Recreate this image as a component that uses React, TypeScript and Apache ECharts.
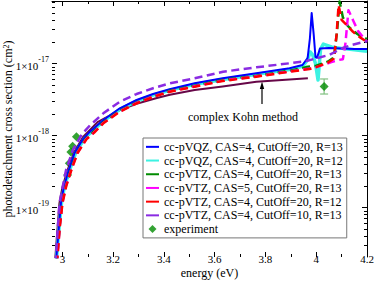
import React, { useEffect, useRef } from 'react';
import * as echarts from 'echarts';

// ---- axes (energy in eV, cross section as log10 of cm^2) ----
const X_MIN = 2.9587;
const X_MAX = 4.2;
const Y_MIN = -19.6875;
const Y_MAX = -16.132;

const xMajorTicks = [3, 3.2, 3.4, 3.6, 3.8, 4, 4.2];
const xMinorTicks = [3.1, 3.3, 3.5, 3.7, 3.9, 4.1];
const yMajorTicks = [-19, -18, -17];
const yMinorTicks: number[] = [];
[-20, -19, -18, -17].forEach((n) => {
  for (let k = 2; k <= 9; k++) {
    const v = n + Math.log10(k);
    if (v > Y_MIN && v < Y_MAX) yMinorTicks.push(v);
  }
});

// ---- data: [energy (eV), log10 cross section (cm^2)] ----
const vqzCas4R13: [number, number][] = [
  [2.971, -20.3], [2.976, -19.69], [2.985, -19.31], [2.994, -18.94], [3.005, -18.72],
  [3.025, -18.48], [3.048, -18.24], [3.081, -18.05], [3.108, -17.947], [3.161, -17.785],
  [3.226, -17.622], [3.292, -17.507], [3.357, -17.424], [3.422, -17.358], [3.521, -17.275],
  [3.631, -17.206], [3.764, -17.136], [3.895, -17.067], [3.946, -17.021], [3.966, -16.924],
  [3.975, -16.65], [3.982, -16.3], [3.99, -16.6], [3.997, -16.91], [4.003, -16.92],
  [4.015, -16.79], [4.05, -16.785], [4.1, -16.79], [4.15, -16.8], [4.2, -16.8],
];
const vqzCas4R12: [number, number][] = [
  [2.971, -20.3], [2.977, -19.69], [2.986, -19.31], [2.996, -18.94], [3.007, -18.72],
  [3.028, -18.48], [3.052, -18.24], [3.085, -18.05], [3.112, -17.955], [3.161, -17.8],
  [3.226, -17.637], [3.292, -17.522], [3.357, -17.44], [3.422, -17.373], [3.521, -17.29],
  [3.631, -17.221], [3.764, -17.151], [3.895, -17.082], [3.946, -17.04], [3.966, -16.95],
  [3.976, -16.84], [3.986, -16.88], [3.997, -17.0], [4.007, -17.23], [4.017, -16.8],
  [4.028, -16.73], [4.06, -16.77], [4.1, -16.79], [4.15, -16.81], [4.2, -16.83],
];
const vtzCas4R13: [number, number][] = [
  [2.972, -20.3], [2.979, -19.69], [2.988, -19.28], [2.998, -18.94], [3.012, -18.71],
  [3.032, -18.48], [3.057, -18.24], [3.09, -18.05], [3.118, -17.96], [3.161, -17.815],
  [3.226, -17.655], [3.292, -17.54], [3.357, -17.455], [3.423, -17.378], [3.521, -17.308],
  [3.631, -17.23], [3.764, -17.17], [3.895, -17.1], [3.96, -17.05], [4.0, -17.03],
  [4.045, -16.975], [4.07, -16.915], [4.082, -16.55], [4.092, -16.14], [4.105, -16.36],
  [4.125, -16.48], [4.15, -16.56], [4.175, -16.62], [4.2, -16.66],
];
const vtzCas5R13: [number, number][] = [
  [2.973, -20.3], [2.98, -19.69], [2.989, -19.27], [2.999, -18.94], [3.014, -18.7],
  [3.034, -18.48], [3.059, -18.24], [3.093, -18.05], [3.123, -17.96], [3.161, -17.825],
  [3.226, -17.664], [3.292, -17.548], [3.357, -17.46], [3.423, -17.387], [3.521, -17.317],
  [3.631, -17.238], [3.764, -17.178], [3.895, -17.11], [3.974, -17.07], [4.0, -17.05],
  [4.06, -16.98], [4.09, -16.95], [4.105, -16.94], [4.115, -16.72], [4.127, -16.26],
  [4.145, -16.4], [4.165, -16.55], [4.2, -16.7],
];
const vtzCas4R12: [number, number][] = [
  [2.973, -20.3], [2.98, -19.69], [2.99, -19.25], [3.0, -18.94], [3.015, -18.7],
  [3.035, -18.48], [3.06, -18.24], [3.095, -18.05], [3.125, -17.96], [3.161, -17.83],
  [3.226, -17.669], [3.292, -17.553], [3.357, -17.465], [3.423, -17.392], [3.521, -17.322],
  [3.631, -17.243], [3.764, -17.183], [3.895, -17.114], [3.974, -17.076], [4.0, -17.05],
  [4.045, -16.99], [4.07, -16.93], [4.08, -16.6], [4.088, -16.19], [4.1, -16.395],
  [4.12, -16.465], [4.145, -16.56], [4.17, -16.63], [4.2, -16.7],
];
const vtzCas4Cut10R13: [number, number][] = [
  [2.969, -20.3], [2.974, -19.69], [2.988, -18.94], [3.014, -18.48], [3.041, -18.2],
  [3.075, -17.99], [3.108, -17.86], [3.161, -17.692], [3.226, -17.53], [3.292, -17.424],
  [3.357, -17.344], [3.423, -17.275], [3.521, -17.206], [3.633, -17.114], [3.764, -17.053],
  [3.895, -16.997], [3.961, -16.965], [4.005, -16.924], [4.052, -16.88], [4.104, -16.785],
  [4.143, -16.74], [4.2, -16.69],
];
const complexKohn: [number, number][] = [
  [2.97, -20.3], [2.972, -19.69], [2.98, -19.31], [2.988, -18.94], [3.0, -18.715],
  [3.02, -18.48], [3.045, -18.24], [3.081, -18.02], [3.14, -17.81], [3.226, -17.646],
  [3.292, -17.56], [3.372, -17.48], [3.423, -17.435], [3.521, -17.368], [3.631, -17.318],
  [3.764, -17.253], [3.967, -17.206],
];
const experiment: [number, number][] = [
  [3.02, -18.549], [3.027, -18.386], [3.033, -18.229], [3.04, -18.15], [3.055, -18.017],
  [4.031, -17.319],
];
// [energy, low, high]
const experimentErrors: [number, number, number][] = [[4.031, -17.424, -17.215]];

const names = [
  'cc-pVQZ, CAS=4, CutOff=20, R=13',
  'cc-pVQZ, CAS=4, CutOff=20, R=12',
  'cc-pVTZ, CAS=4, CutOff=20, R=13',
  'cc-pVTZ, CAS=5, CutOff=20, R=13',
  'cc-pVTZ, CAS=4, CutOff=20, R=12',
  'cc-pVTZ, CAS=4, CutOff=10, R=13',
  'experiment',
];

const FONT = '"Liberation Serif", "Times New Roman", serif';
const C_BLUE = '#0000ff';
const C_CYAN = '#3cf2e2';
const C_GREEN = '#008b00';
const C_MAGENTA = '#ff00ff';
const C_RED = '#ff0000';
const C_VIOLET = '#8a2be2';
const C_KOHN = '#670748';
const C_ERR = '#80c080';

const LINE_ICON = 'path://M0,0H13V2H0Z';
const DIAMOND_ICON = 'path://M4,0L8,4L4,8L0,4Z';

function lineSeries(name: string, data: [number, number][], color: string, width: number, dashed: boolean) {
  return {
    type: 'line',
    name,
    data,
    color,
    itemStyle: { color },
    showSymbol: false,
    symbol: 'none',
    clip: true,
    lineStyle: {
      color,
      width,
      type: dashed ? [8, 4.5] : 'solid',
      cap: 'butt',
      join: 'round',
    },
  };
}

const xLabelFmt = (v: number) => String(Number(v.toFixed(1)));

function xAxisDef(position: string, ticks: number[], len: number, extra: any = {}) {
  return {
    type: 'value',
    min: X_MIN,
    max: X_MAX,
    position,
    axisLine: { show: false },
    splitLine: { show: false },
    axisTick: { show: true, inside: true, length: len, customValues: ticks, lineStyle: { color: '#000', width: 1 } },
    axisLabel: { show: false },
    ...extra,
  };
}
function yAxisDef(position: string, ticks: number[], len: number, extra: any = {}) {
  return {
    type: 'value',
    min: Y_MIN,
    max: Y_MAX,
    position,
    axisLine: { show: false },
    splitLine: { show: false },
    axisTick: { show: true, inside: true, length: len, customValues: ticks, lineStyle: { color: '#000', width: 1 } },
    axisLabel: { show: false },
    ...extra,
  };
}

const option: any = {
  animation: false,
  backgroundColor: '#fff',
  grid: { left: 52, right: 7, top: 1, bottom: 25, containLabel: false, outerBoundsMode: 'none' },
  xAxis: [
    xAxisDef('bottom', xMajorTicks, 5, {
      axisLabel: {
        show: true,
        customValues: xMajorTicks,
        formatter: xLabelFmt,
        margin: -4,
        fontSize: 11,
        fontFamily: FONT,
        color: '#000',
      },
      name: 'energy (eV)',
      nameLocation: 'middle',
      nameGap: 10,
      nameMoveOverlap: false,
      nameTextStyle: { fontSize: 12, fontFamily: FONT, color: '#000' },
    }),
    xAxisDef('bottom', xMinorTicks, 3),
    xAxisDef('top', xMajorTicks, 5, { axisLine: { show: true, lineStyle: { color: '#000', width: 1 } } }),
    xAxisDef('top', xMinorTicks, 3),
  ],
  yAxis: [
    yAxisDef('left', yMajorTicks, 5, {
      axisLabel: {
        show: true,
        customValues: yMajorTicks,
        margin: 3,
        formatter: (v: number) => `{b|1×10}{s|${Math.round(v)}}`,
        rich: {
          b: { fontSize: 11, fontFamily: FONT, color: '#000', verticalAlign: 'bottom', lineHeight: 16 },
          s: { fontSize: 8, fontFamily: FONT, color: '#000', verticalAlign: 'top', lineHeight: 10 },
        },
      },
      name: 'photodetachment cross section (cm{s|2})',
      nameLocation: 'middle',
      nameGap: 38,
      nameMoveOverlap: false,
      nameTextStyle: {
        fontSize: 12,
        fontFamily: FONT,
        color: '#000',
        rich: {
          s: { fontSize: 8, fontFamily: FONT, color: '#000', verticalAlign: 'top', lineHeight: 8 },
        },
      },
    }),
    yAxisDef('left', yMinorTicks, 3),
    yAxisDef('right', yMajorTicks, 5, { axisLine: { show: true, lineStyle: { color: '#000', width: 1 } } }),
    yAxisDef('right', yMinorTicks, 3),
  ],
  legend: {
    orient: 'vertical',
    left: 143,
    top: 138,
    padding: [2, 4, 2, 3],
    itemWidth: 13,
    itemHeight: 8,
    itemGap: 0,
    selectedMode: false,
    symbolKeepAspect: true,
    itemStyle: { borderWidth: 0 },
    borderColor: '#777',
    borderWidth: 1,
    backgroundColor: '#fff',
    textStyle: { fontSize: 12, fontFamily: FONT, color: '#000', lineHeight: 13.7 },
    data: names.map((n, i) => ({ name: n, icon: i === 6 ? DIAMOND_ICON : LINE_ICON })),
  },
  series: [
    lineSeries('complex Kohn method', complexKohn, C_KOHN, 2, false),
    lineSeries(names[1], vqzCas4R12, C_CYAN, 3.5, false),
    lineSeries(names[0], vqzCas4R13, C_BLUE, 2, false),
    lineSeries(names[2], vtzCas4R13, C_GREEN, 2.5, true),
    lineSeries(names[3], vtzCas5R13, C_MAGENTA, 2.5, true),
    lineSeries(names[4], vtzCas4R12, C_RED, 2.5, true),
    lineSeries(names[5], vtzCas4Cut10R13, C_VIOLET, 2.5, true),
    {
      type: 'custom',
      name: 'experiment error',
      data: experimentErrors,
      encode: { x: 0, y: [1, 2] },
      renderItem: (params: any, api: any) => {
        const x = api.value(0);
        const lo = api.coord([x, api.value(1)]);
        const hi = api.coord([x, api.value(2)]);
        const w = 4;
        const style = { stroke: C_ERR, lineWidth: 1.2 };
        return {
          type: 'group',
          children: [
            { type: 'line', shape: { x1: lo[0], y1: lo[1], x2: hi[0], y2: hi[1] }, style },
            { type: 'line', shape: { x1: lo[0] - w, y1: lo[1], x2: lo[0] + w, y2: lo[1] }, style },
            { type: 'line', shape: { x1: hi[0] - w, y1: hi[1], x2: hi[0] + w, y2: hi[1] }, style },
          ],
        };
      },
    },
    {
      type: 'scatter',
      name: names[6],
      data: experiment,
      symbol: 'diamond',
      symbolSize: 9,
      color: C_GREEN,
      itemStyle: { color: C_GREEN },
    },
  ],
  graphic: [
    {
      type: 'text',
      x: 188,
      y: 117,
      style: { text: 'complex Kohn method', font: `12px ${FONT}`, fill: '#000', verticalAlign: 'middle' },
    },
    { type: 'line', shape: { x1: 262, y1: 104, x2: 262, y2: 87 }, style: { stroke: '#000', lineWidth: 1.2 } },
    { type: 'polygon', shape: { points: [[262, 81.5], [259.8, 89], [264.2, 89]] }, style: { fill: '#000' } },
  ],
};

export default function App() {
  const ref = useRef<HTMLDivElement>(null);
  useEffect(() => {
    document.body.style.margin = '0';
    const chart = echarts.init(ref.current as HTMLDivElement, null, { renderer: 'svg' });
    chart.setOption(option);
    return () => chart.dispose();
  }, []);
  return (
    <div
      ref={ref}
      style={{ position: 'absolute', left: 0, top: 0, width: 374, height: 282, background: '#fff' }}
    />
  );
}
